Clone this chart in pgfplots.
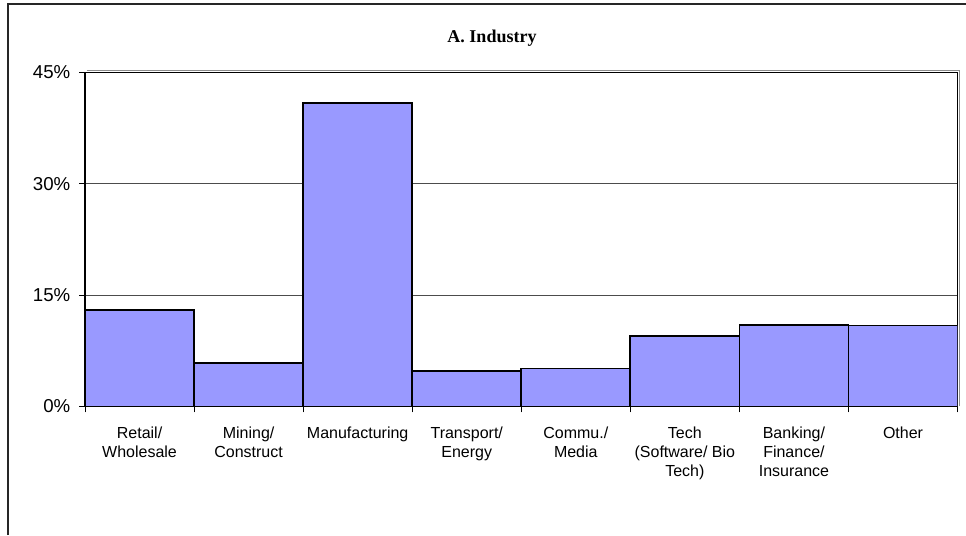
\documentclass[border=0pt]{standalone}
\usepackage{fontspec}
\setmainfont{Liberation Sans}
\newfontfamily\titlefont{Liberation Serif}
\usepackage{pgfplots}
\pgfplotsset{compat=1.18}
\definecolor{barblue}{HTML}{9999FF}
\newcommand{\ylab}[1]{\fontsize{14}{16}\selectfont #1}
\begin{document}
\begin{tikzpicture}
\useasboundingbox (0pt,0pt) rectangle (724.5pt,401.25pt);
% outer chart frame (cut off at right and bottom)
\draw[black!85, line width=0.9pt] (6pt,0pt) -- (6pt,398.25pt) -- (724.5pt,398.25pt);
\node[font=\titlefont\bfseries\fontsize{13.5}{16}\selectfont] at (369pt,372.5pt) {A. Industry};
% grey shadow of the plot area border
\draw[black!45, line width=0.9pt] (64.9pt,348.6pt) -- (719.6pt,348.6pt) -- (719.6pt,96.4pt);
\begin{axis}[
  at={(63.75pt,96.4pt)}, anchor=south west,
  scale only axis, width=654.4pt, height=250.5pt,
  xmin=0, xmax=8, ymin=0, ymax=45,
  xtick={0,...,8}, x tick label as interval,
  xticklabels={{Retail/\\Wholesale},{Mining/\\Construct},{Manufacturing},{Transport/\\Energy},{Commu./\\Media},{Tech\\(Software/ Bio\\Tech)},{Banking/\\Finance/\\Insurance},{Other}},
  ytick={0,15,30,45},
  yticklabels={{\ylab{0\%}},{\ylab{15\%}},{\ylab{30\%}},{\ylab{45\%}}},
  xtick pos=bottom, ytick pos=left,
  ymajorgrids, major grid style={black!70, line width=0.6pt},
  tick align=outside, major tick length=4.5pt,
  tick style={black, line width=0.6pt},
  axis line style={black, line width=0.9pt},
  xticklabel style={font=\fontsize{12}{14.3}\selectfont, align=center, anchor=north, yshift=-7.5pt},
  every y tick label/.append style={xshift=-3pt},
]
\addplot[ybar interval, fill=barblue, draw=black, line width=1.3pt] coordinates {(0,13.0) (1,5.9) (2,40.9) (3,4.8) (4,5.1) (5,9.5) (6,11.0) (7,10.9) (8,10.9)};
\end{axis}
\end{tikzpicture}
\end{document}
